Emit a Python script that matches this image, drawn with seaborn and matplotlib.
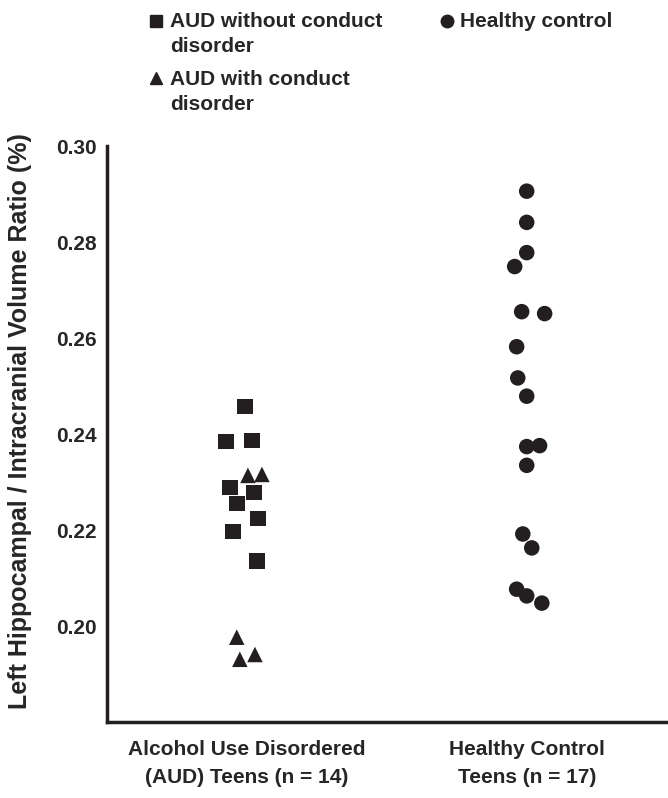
import matplotlib
matplotlib.use("Agg")
import matplotlib.pyplot as plt
import seaborn as sns
import numpy as np
import pandas as pd
from matplotlib.lines import Line2D

# values
aud_nocd = [0.2458, 0.2385, 0.2387, 0.2289, 0.2278, 0.2255, 0.2224, 0.2197, 0.2136]
aud_nocd_jit = [-0.007, -0.075, 0.018, -0.061, 0.025, -0.036, 0.039, -0.050, 0.036]
aud_cd = [0.2314, 0.2316, 0.1977, 0.1931, 0.1941]
aud_cd_jit = [0.004, 0.054, -0.036, -0.025, 0.029]
healthy = [0.2906, 0.2841, 0.2778, 0.2749, 0.2655, 0.2651, 0.2582, 0.2517, 0.2479,
           0.2374, 0.2376, 0.2335, 0.2192, 0.2163, 0.2077, 0.2063, 0.2048]
healthy_jit = [0.0, 0.0, 0.0, -0.043, -0.018, 0.064, -0.036, -0.032, 0.0,
               0.0, 0.046, 0.0, -0.014, 0.018, -0.036, 0.0, 0.054]

groups = ["Alcohol Use Disordered\n(AUD) Teens (n = 14)", "Healthy Control\nTeens (n = 17)"]
yticks = [0.20, 0.22, 0.24, 0.26, 0.28, 0.30]

dfA = pd.DataFrame({"x": 0 + np.array(aud_nocd_jit), "ratio": aud_nocd, "kind": "AUD without conduct\ndisorder"})
dfB = pd.DataFrame({"x": 0 + np.array(aud_cd_jit), "ratio": aud_cd, "kind": "AUD with conduct\ndisorder"})
dfC = pd.DataFrame({"x": 1 + np.array(healthy_jit), "ratio": healthy, "kind": "Healthy control"})
data = pd.concat([dfA, dfB, dfC])

sns.set_style("white")
plt.rcParams["font.family"] = ["Liberation Sans", "DejaVu Sans"]
plt.rcParams["font.weight"] = "bold"

fig = plt.figure(figsize=(6.68, 7.98), dpi=100)
ax = fig.add_axes([0.160, 0.095, 0.838, 0.722])

markers = {"AUD without conduct\ndisorder": "s", "AUD with conduct\ndisorder": "^", "Healthy control": "o"}
sns.scatterplot(data=data, x="x", y="ratio", style="kind", markers=markers,
                color="#231f20", s=125, edgecolor="none", ax=ax, legend=False)

ax.set_xlim(-0.5, 1.5)
ax.set_ylim(0.18, 0.30)
ax.set_xticks([0, 1])
ax.set_xticklabels(groups, fontsize=15, fontweight="bold", linespacing=1.6)
ax.set_yticks(yticks)
ax.set_yticklabels(["%.2f" % v for v in yticks], fontsize=15, fontweight="bold")
ax.tick_params(axis="y", length=0, pad=7)
ax.tick_params(axis="x", length=0, pad=13)
ax.set_xlabel("")
ax.set_ylabel("Left Hippocampal / Intracranial Volume Ratio (%)", fontsize=18, fontweight="bold")
ax.yaxis.set_label_coords(-0.133, 0.522)
sns.despine(ax=ax)
for side in ["left", "bottom"]:
    ax.spines[side].set_linewidth(2.5)
    ax.spines[side].set_color("#231f20")

handles = [Line2D([], [], marker=markers[k], color="#231f20", linestyle="", markersize=9)
           for k in ["AUD without conduct\ndisorder", "AUD with conduct\ndisorder", "Healthy control"]]
labels = ["AUD without conduct\ndisorder", "AUD with conduct\ndisorder", "Healthy control"]
leg = fig.legend(handles, labels, ncol=2, loc="upper left", bbox_to_anchor=(0.19, 1.008),
                 frameon=False, prop={"size": 15, "weight": "bold"}, handletextpad=0.15,
                 handlelength=1.0, handleheight=1.0, columnspacing=2.6, labelspacing=0.68)
for t in leg.get_texts():
    t.set_linespacing(1.38)
# put the marker next to the first line of each label
for col in leg._legend_handle_box.get_children():
    for row in col.get_children():
        row.align = "top"
leg._legend_handle_box.align = "top"

fig.savefig("out.png", dpi=100)
